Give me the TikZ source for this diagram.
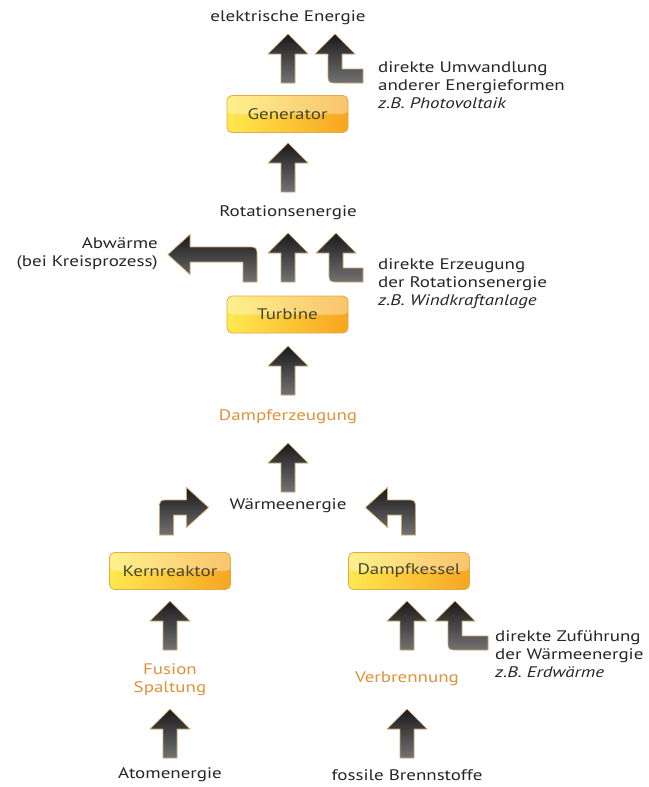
\documentclass[tikz,border=0pt]{standalone}
\usepackage{fontspec}
\setmainfont{PT Sans}[FakeStretch=1.24]
\definecolor{txt}{HTML}{262626}
\definecolor{orangetxt}{HTML}{E0923A}
\definecolor{boxtxt}{HTML}{45452E}
\definecolor{arrline}{HTML}{D0A66E}
\definecolor{boxline}{HTML}{E6A94A}
\definecolor{boxY}{HTML}{FFE94F}
\definecolor{boxO}{HTML}{F7A51F}
\newcommand{\myUp}[2]{\path[arr, shift={(#1,#2)}] (0,-49) -- (20,-29) -- (7,-29) -- (7,0) -- (-7,0) -- (-7,-29) -- (-20,-29) -- cycle;}
\newcommand{\myBentUp}[3]{\path[arr, shift={(#1,#2)}] (0,-49) -- (20,-29) -- (7,-29) -- (7,-14) -- (#3,-14) -- (#3,0) -- (3,0) .. controls (-7,0) .. (-7,-10) -- (-7,-29) -- (-20,-29) -- cycle;}
\newcommand{\myTurn}[4]{\path[arr, shift={(#1,#2)}, xscale=#3] (-7,0) -- (-7,-25) .. controls (-7,-35) .. (3,-35) -- (#4,-35) -- (#4,-47.5) -- ({#4+22},-27.5) -- (#4,-7.5) -- (#4,-20) -- (7,-20) -- (7,0) -- cycle;}
\begin{document}
\begin{tikzpicture}[x=1pt,y=-1pt,
  every node/.style={inner sep=0pt, text=txt, font=\fontsize{15.3}{18}\selectfont},
  arr/.style={draw=arrline, line width=0.7pt, top color=black!90, bottom color=black!55, line join=round},
  box/.style={draw=boxline, line width=0.8pt, rounded corners=5pt, left color=boxY, right color=boxO,
    minimum width=121pt, minimum height=37pt, text=boxtxt,
    path picture={\fill[white,opacity=0.35] (path picture bounding box.north west) rectangle (path picture bounding box.east);}},
  otxt/.style={text=orangetxt},
  note/.style={anchor=west, align=left},
]
\useasboundingbox[fill=white] (0,0) rectangle (648,787);

% texts
\node (elek) at (288,18) {elektrische Energie};
\node[note] (umw) at (378,85) {direkte Umwandlung\\anderer Energieformen\\\textit{z.B. Photovoltaik}};
\node[box] (gen) at (287.5,114) {Generator};
\node (rot) at (288,213) {Rotationsenergie};
\node[align=right, anchor=east] (abw) at (158,254) {Abwärme\\(bei Kreisprozess)};
\node[note] (erz) at (378,284) {direkte Erzeugung\\der Rotationsenergie\\\textit{z.B. Windkraftanlage}};
\node[box] (turb) at (287.5,314.5) {Turbine};
\node[otxt] (dampf) at (288,417) {Dampferzeugung};
\node (waerme) at (288,506) {Wärmeenergie};
\node[box] (kern) at (170,571) {Kernreaktor};
\node[box] (kessel) at (409,571) {Dampfkessel};
\node[otxt, align=center] (fus) at (170,680) {Fusion\\Spaltung};
\node[otxt] (verb) at (407,679) {Verbrennung};
\node[note] (zuf) at (495,654) {direkte Zuführung\\der Wärmeenergie\\\textit{z.B. Erdwärme}};
\node (atom) at (170,775) {Atomenergie};
\node (foss) at (407,775) {fossile Brennstoffe};

% arrows
\myUp{288}{83}
\myBentUp{335}{83}{28}
\myUp{288}{192}
\myUp{288}{282}
\myBentUp{336}{282}{27}
\myTurn{250}{282}{-1}{60}
\myUp{288}{395}
\myUp{288}{492}
\myTurn{166.5}{535}{1}{20}
\myTurn{408.5}{535}{-1}{21}
\myUp{170}{650}
\myUp{170}{758}
\myUp{407}{650}
\myBentUp{455}{650}{33}
\myUp{407}{758}
\end{tikzpicture}
\end{document}
